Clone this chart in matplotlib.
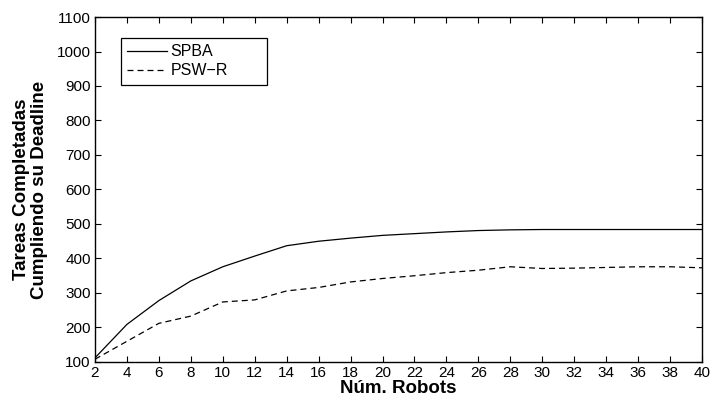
import numpy as np
import matplotlib
matplotlib.use("Agg")
import matplotlib.pyplot as plt

plt.rcParams['font.family'] = ['Liberation Sans', 'DejaVu Sans']

robots = [2, 4, 6, 8, 10, 12, 14, 16, 18, 20, 22, 24, 26, 28, 30, 32, 34, 36, 38, 40]
spba = [112, 209, 278, 335, 376, 407, 437, 450, 459, 467, 472, 477, 481, 483, 484, 484, 484, 484, 484, 484]
pswr = [108, 160, 212, 233, 274, 280, 306, 316, 332, 342, 350, 359, 366, 376, 371, 372, 374, 376, 376, 373]

fig = plt.figure(figsize=(7.11, 4.01), dpi=100)
ax = fig.add_axes([0.1336, 0.0973, 0.8537, 0.8603])

ax.plot(robots, spba, color="black", linewidth=0.9, label="SPBA")
ax.plot(robots, pswr, color="black", linewidth=0.9, linestyle=(0, (4.8, 3.2)), label="PSW\u2212R")

ax.set_xlim(2, 40)
ax.set_ylim(100, 1100)
ax.set_xticks(np.arange(2, 41, 2))
ax.set_yticks(np.arange(100, 1101, 100))
ax.tick_params(direction="in", top=True, right=True, labelsize=11, length=4, pad=3)
for s in ax.spines.values():
    s.set_linewidth(1.0)

ax.set_xlabel("Núm. Robots", fontsize=13.5, fontweight="bold", labelpad=0)
ax.set_ylabel("Tareas Completadas\nCumpliendo su Deadline", fontsize=13.5, fontweight="bold",
              labelpad=6, linespacing=1.1)

# MATLAB-like legend box with empty space on the right
leg = ax.legend(loc="upper left", bbox_to_anchor=(0.043, 0.803, 0.2405, 0.136), mode="expand",
                fontsize=11.5, fancybox=False, edgecolor="black", framealpha=1,
                handlelength=2.45, handletextpad=0.25, borderpad=0.4, labelspacing=0.25,
                borderaxespad=0)
leg.get_frame().set_linewidth(0.9)

fig.savefig("out.png", dpi=100)
